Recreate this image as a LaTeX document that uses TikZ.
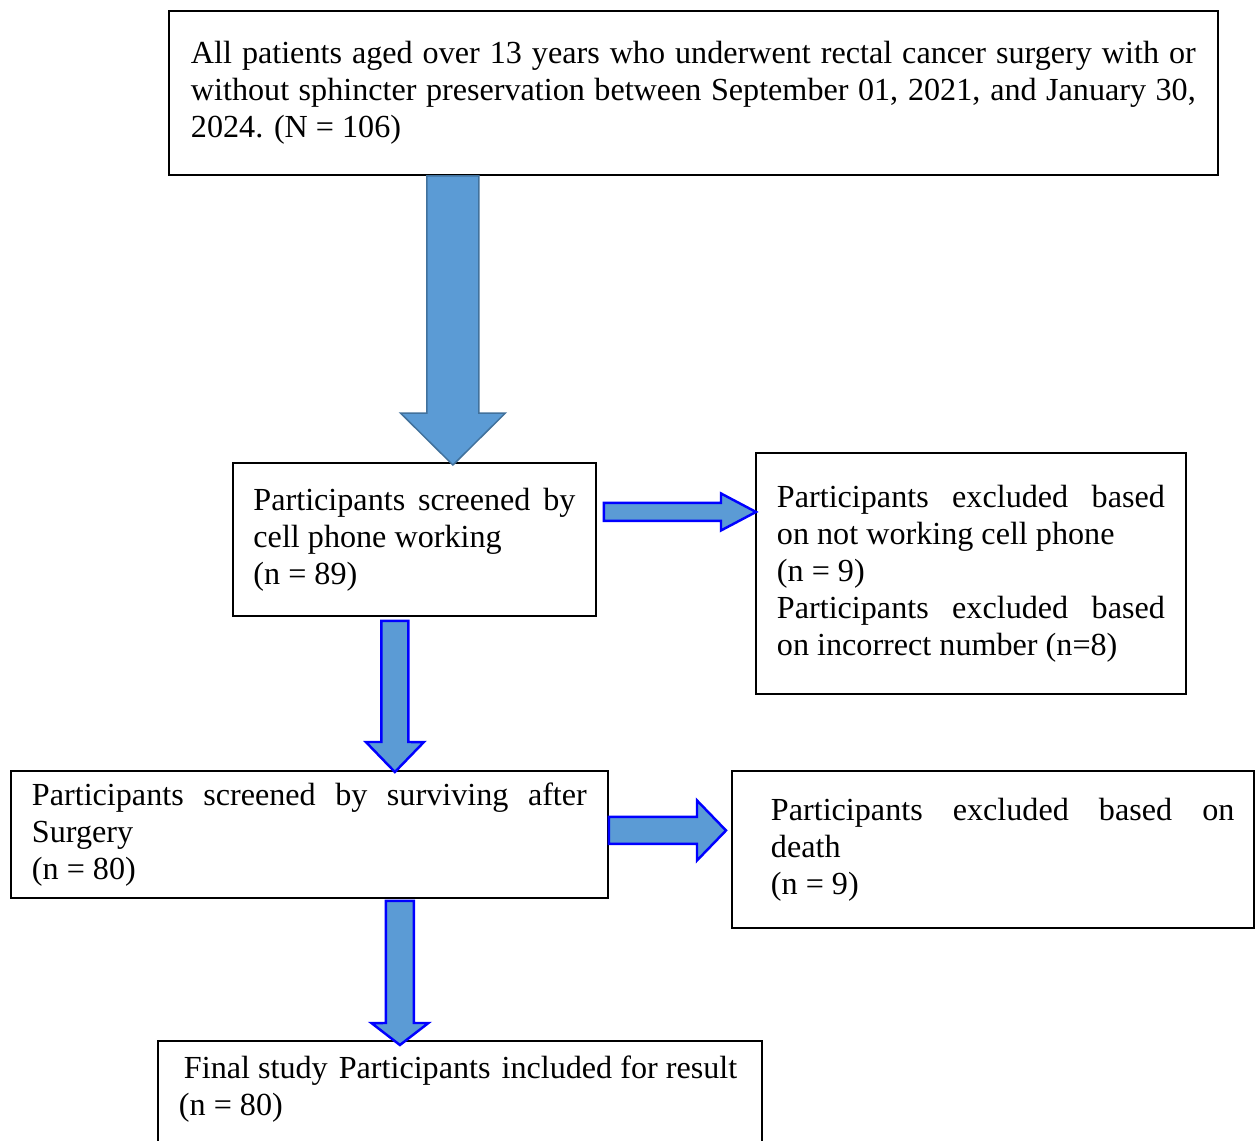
\documentclass[tikz,border=0pt]{standalone}
\usepackage{fontspec}
\setmainfont{Liberation Serif}
\usepackage{tikz}
\usetikzlibrary{calc}
\definecolor{arrowfill}{RGB}{91,155,213}
\definecolor{arrowedge}{RGB}{65,113,156}
\definecolor{arrowblue}{RGB}{0,0,255}

\begin{document}
\begin{tikzpicture}[x=.02cm,y=-.02cm,font=\fontsize{18.3}{21.1}\selectfont,
    box/.style={draw,line width=1.1pt,anchor=north west,align=justify,inner ysep=0pt},
    fatarrow/.style n args={3}{to path={let \p1=(\tikztostart),\p2=(\tikztotarget),
      \n1={atan2(\y2-\y1,\x2-\x1)} in
      ($(\p1)+({\n1+90}:#1)$) -- ($(\p2)+({\n1+180}:#3)+({\n1+90}:#1)$)
      -- ($(\p2)+({\n1+180}:#3)+({\n1+90}:#2)$) -- (\p2)
      -- ($(\p2)+({\n1+180}:#3)+({\n1-90}:#2)$) -- ($(\p2)+({\n1+180}:#3)+({\n1-90}:#1)$)
      -- ($(\p1)+({\n1-90}:#1)$) -- cycle}},
    bigarrow/.style={fill=arrowfill,draw=arrowedge,line width=.85pt,fatarrow={.52cm}{1.05cm}{1.04cm}},
    smallarrow/.style={fill=arrowfill,draw=arrowblue,line width=1.4pt}]
    \path[use as bounding box,fill=white] (0,0) rectangle (1255,1140);

    \node[box,text width=20.1cm,inner xsep=.44cm,minimum height=3.28cm] (top) at (168,10)
      {All patients aged over 13 years who underwent rectal cancer surgery with or\linebreak
       without sphincter preservation between September 01, 2021, and January 30,\linebreak
       2024. (N = 106)};
    \node[box,text width=6.44cm,inner xsep=.41cm,minimum height=3.06cm] (screen1) at (232,462)
      {Participants screened by\linebreak cell phone working\\(n = 89)};
    \node[box,text width=7.76cm,inner xsep=.42cm,minimum height=4.82cm] (excl1) at (755,452)
      {Participants excluded based\linebreak on not working cell phone\\(n = 9)\\
       Participants excluded based\linebreak on incorrect number (n=8)};
    \node[box,text width=11.1cm,inner xsep=.42cm,minimum height=2.54cm] (screen2) at (10,770)
      {Participants screened by surviving after\linebreak Surgery\\(n = 80)};
    \node[box,text width=9.66cm,inner xsep=.39cm,minimum height=3.14cm] (excl2) at (731,770)
      {\hspace*{.39cm}Participants excluded based on\linebreak
       \hspace*{.39cm}death\\\hspace*{.39cm}(n = 9)};
    \node[box,align=flush left,text width=11.24cm,inner xsep=.42cm,inner ysep=.3cm,text depth=2.5cm] (final) at (157,1040)
      {\hspace*{.1cm}\mbox{Final study\hspace{.22cm}Participants\hspace{.22cm}included for result}\\(n = 80)};

    % arrow ends
    \coordinate (a1s) at ([xshift=-4.81cm]top.south);
    \coordinate (a1e) at ([xshift=.77cm,yshift=-.06cm]screen1.north);
    \coordinate (a2s) at ([xshift=.14cm,yshift=.55cm]screen1.east);
    \coordinate (a2e) at ([xshift=.02cm,yshift=1.23cm]excl1.west);
    \coordinate (a3s) at ([xshift=-.39cm,yshift=-.08cm]screen1.south);
    \coordinate (a3e) at ([xshift=1.71cm,yshift=-.04cm]screen2.north);
    \coordinate (a4s) at ([yshift=.08cm]screen2.east);
    \coordinate (a4e) at ([xshift=-.1cm,yshift=.38cm]excl2.west);
    \coordinate (a5s) at ([xshift=1.81cm,yshift=-.04cm]screen2.south);
    \coordinate (a5e) at ([xshift=-1.2cm,yshift=-.1cm]final.north);

    \draw[bigarrow] (a1s) to (a1e);
    \draw[smallarrow,fatarrow={.18cm}{.37cm}{.7cm}] (a2s) to (a2e);
    \draw[smallarrow,fatarrow={.27cm}{.58cm}{.6cm}] (a3s) to (a3e);
    \draw[smallarrow,fatarrow={.27cm}{.6cm}{.58cm}] (a4s) to (a4e);
    \draw[smallarrow,fatarrow={.28cm}{.57cm}{.44cm}] (a5s) to (a5e);
\end{tikzpicture}
\end{document}
